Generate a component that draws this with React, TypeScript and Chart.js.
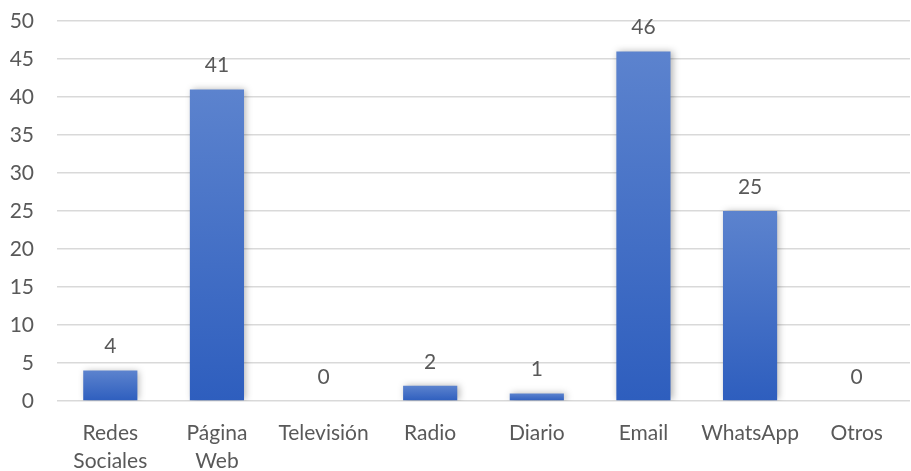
import React, { useEffect, useRef } from "react";
import { Chart, registerables } from "chart.js";

Chart.register(...registerables);

const categories: (string | string[])[] = [
  ["Redes", "Sociales"],
  ["Página", "Web"],
  "Televisión",
  "Radio",
  "Diario",
  "Email",
  "WhatsApp",
  "Otros",
];
const values = [4, 41, 0, 2, 1, 46, 25, 0];
const yMin = 0;
const yMax = 50;
const yStep = 5;

const FONT = "Lato, 'Open Sans', sans-serif";
const TEXT = "#595959";
const FSIZE = 21;

const shadowPlugin = {
  id: "barShadow",
  beforeDatasetsDraw(chart: any) {
    const c = chart.ctx;
    c.save();
    c.shadowColor = "rgba(0,0,0,0.30)";
    c.shadowBlur = 7;
    c.shadowOffsetX = 2;
    c.shadowOffsetY = 0;
  },
  afterDatasetsDraw(chart: any) {
    chart.ctx.restore();
  },
};

const labelPlugin = {
  id: "valueLabels",
  afterDatasetsDraw(chart: any) {
    const c = chart.ctx;
    const meta = chart.getDatasetMeta(0);
    c.save();
    c.font = `${FSIZE}px ${FONT}`;
    c.fillStyle = TEXT;
    c.textAlign = "center";
    c.textBaseline = "middle";
    meta.data.forEach((el: any, i: number) => {
      c.fillText(String(values[i]), el.x, el.y - 24);
    });
    c.restore();
  },
};

export default function App() {
  const ref = useRef<HTMLCanvasElement | null>(null);
  useEffect(() => {
    if (!ref.current) return;
    const chart = new Chart(ref.current, {
      type: "bar",
      data: {
        labels: categories,
        datasets: [
          {
            data: values,
            barPercentage: 0.8,
            categoryPercentage: 0.635,
            backgroundColor: (ctx: any) => {
              const ch = ctx.chart;
              if (!ch.chartArea || !ch.scales.y) return "#4472c4";
              const ys = ch.scales.y;
              const v = ctx.raw ?? 0;
              const top = ys.getPixelForValue(v);
              const bottom = ys.getPixelForValue(0);
              if (!(bottom - top > 0.5)) return "#4472c4";
              const g = ch.ctx.createLinearGradient(0, top, 0, bottom);
              g.addColorStop(0, "#5c83ce");
              g.addColorStop(1, "#2e5ebe");
              return g;
            },
            borderWidth: 0,
          },
        ],
      },
      options: {
        responsive: false,
        animation: false,
        layout: { padding: { top: 21, right: 1, left: 0, bottom: 0 } },
        plugins: {
          legend: { display: false },
          tooltip: { enabled: false },
          title: { display: false },
        },
        scales: {
          x: {
            grid: { display: false, drawTicks: false },
            border: { display: false },
            ticks: {
              color: TEXT,
              font: { family: FONT, size: FSIZE, lineHeight: 1.35 },
              padding: 18,
              maxRotation: 0,
              autoSkip: false,
            },
            afterFit(scale: any) {
              scale.height = 70;
              scale.paddingLeft = 0;
              scale.paddingRight = 0;
            },
          },
          y: {
            min: yMin,
            max: yMax,
            ticks: {
              stepSize: yStep,
              color: TEXT,
              font: { family: FONT, size: FSIZE },
              padding: 23,
            },
            grid: { color: "#d9d9d9", lineWidth: 1.6, drawTicks: false },
            border: { display: false },
            afterFit(scale: any) {
              scale.width = 57;
              scale.paddingTop = 0;
              scale.paddingBottom = 0;
            },
          },
        },
      },
      plugins: [shadowPlugin, labelPlugin],
    });
    return () => chart.destroy();
  }, []);
  return (
    <div style={{ position: "absolute", left: 0, top: 0, width: 911, height: 471, background: "#fff" }}>
      <canvas ref={ref} width={911} height={471} style={{ display: "block" }} />
    </div>
  );
}
